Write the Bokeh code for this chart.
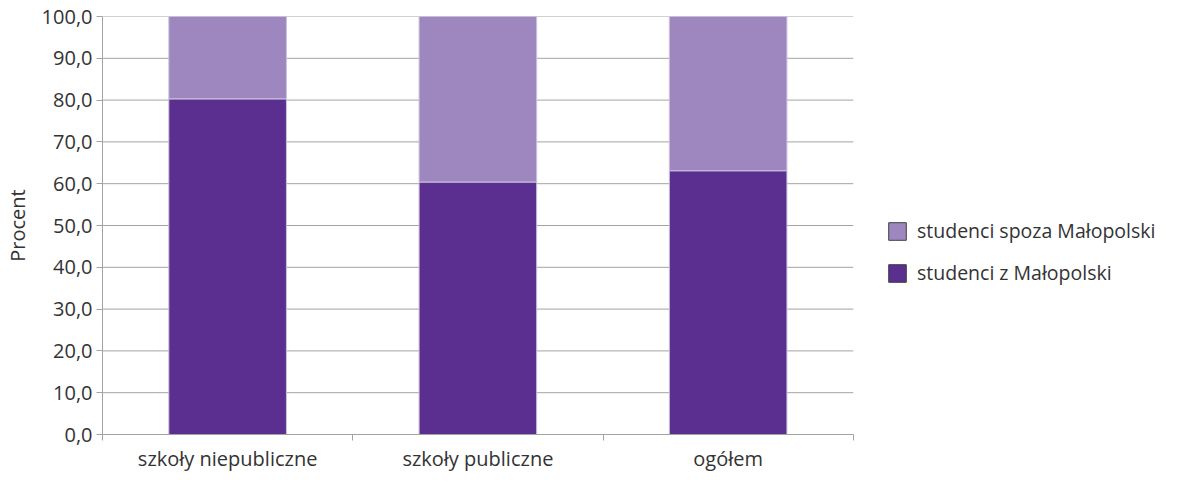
from bokeh.plotting import figure
from bokeh.models import FixedTicker, Legend, LegendItem, ColumnDataSource, Range1d
from bokeh.embed import file_html
from bokeh.resources import INLINE

# ---- data ----
categories = ["szkoły niepubliczne", "szkoły publiczne", "ogółem"]
z_malopolski = [80.3, 60.4, 63.1]
spoza_malopolski = [19.7, 39.6, 36.9]
series_names = ["studenci z Małopolski", "studenci spoza Małopolski"]
y_ticks = [0, 10, 20, 30, 40, 50, 60, 70, 80, 90, 100]
y_tick_labels = ["0,0", "10,0", "20,0", "30,0", "40,0", "50,0", "60,0", "70,0", "80,0", "90,0", "100,0"]

DARK = "#5B2F8F"
LIGHT = "#9D87BE"
GRID = "#a3a3a3"
TEXT = "#333333"
FONT = "Open Sans"

# layout: plot area for the categories is 755 px wide; the frame continues to the
# right edge so the legend can sit inside it
W, H = 1163, 474
LEFT, TOP, BOTTOM = 96, 16, 32
CAT_PX = 755
n = len(categories)
x_end = n * (W - LEFT) / CAT_PX

x_centers = [i + 0.5 for i in range(n)]
source = ColumnDataSource(dict(x=x_centers, z=z_malopolski, s=spoza_malopolski))

p = figure(width=W, height=H, output_backend="svg", toolbar_location=None,
           x_range=Range1d(0, x_end), y_range=Range1d(0, 100),
           min_border_left=LEFT, min_border_right=0, min_border_top=TOP, min_border_bottom=BOTTOM)

# horizontal gridlines limited to the category area
p.segment(x0=[0] * len(y_ticks), x1=[n] * len(y_ticks), y0=y_ticks, y1=y_ticks,
          line_color=GRID, line_width=1)

p.vbar_stack(["z", "s"], x="x", width=0.47, source=source,
             color=[DARK, LIGHT], line_color="#cbc2de", line_width=1)

# legend proxies (no visible mark) with dark outline like the reference legend keys
nan = float("nan")
r_light = p.vbar(x=[nan], top=[nan], width=0.5, fill_color=LIGHT, line_color="#404040")
r_dark = p.vbar(x=[nan], top=[nan], width=0.5, fill_color=DARK, line_color="#404040")

legend = Legend(items=[LegendItem(label=series_names[1], renderers=[r_light]),
                       LegendItem(label=series_names[0], renderers=[r_dark])],
                location=(784, 148), orientation="vertical",
                margin=0, padding=0, border_line_color=None, background_fill_alpha=0,
                glyph_width=22, glyph_height=22, label_height=27, spacing=15,
                label_standoff=9, label_text_font=FONT, label_text_font_size="19.5px",
                label_text_color=TEXT)
p.add_layout(legend, "center")

p.outline_line_color = None
p.background_fill_color = "white"
p.xgrid.grid_line_color = None
p.ygrid.grid_line_color = None

# y axis
p.yaxis.ticker = FixedTicker(ticks=y_ticks)
p.yaxis.major_label_overrides = {t: lab for t, lab in zip(y_ticks, y_tick_labels)}
p.yaxis.axis_line_color = GRID
p.yaxis.major_tick_line_color = GRID
p.yaxis.major_tick_out = 6
p.yaxis.major_tick_in = 0
p.yaxis.minor_tick_line_color = None
p.yaxis.major_label_standoff = 4
p.yaxis.major_label_text_font = FONT
p.yaxis.major_label_text_font_size = "20px"
p.yaxis.major_label_text_color = TEXT
p.yaxis.axis_label = "Procent"
p.yaxis.axis_label_text_font = FONT
p.yaxis.axis_label_text_font_size = "20px"
p.yaxis.axis_label_text_font_style = "normal"
p.yaxis.axis_label_text_color = TEXT
p.yaxis.axis_label_standoff = 8

# x axis: labels at category centres, ticks at boundaries
p.xaxis.bounds = (0, n)
p.xaxis.ticker = FixedTicker(ticks=x_centers, minor_ticks=list(range(n + 1)))
p.xaxis.major_label_overrides = {c: lab for c, lab in zip(x_centers, categories)}
p.xaxis.axis_line_color = GRID
p.xaxis.major_tick_line_color = None
p.xaxis.major_tick_out = 0
p.xaxis.major_tick_in = 0
p.xaxis.minor_tick_line_color = GRID
p.xaxis.minor_tick_out = 6
p.xaxis.minor_tick_in = 0
p.xaxis.major_label_standoff = 4
p.xaxis.major_label_text_font = FONT
p.xaxis.major_label_text_font_size = "20px"
p.xaxis.major_label_text_color = TEXT

open("out.html", "w").write(file_html(p, INLINE))
